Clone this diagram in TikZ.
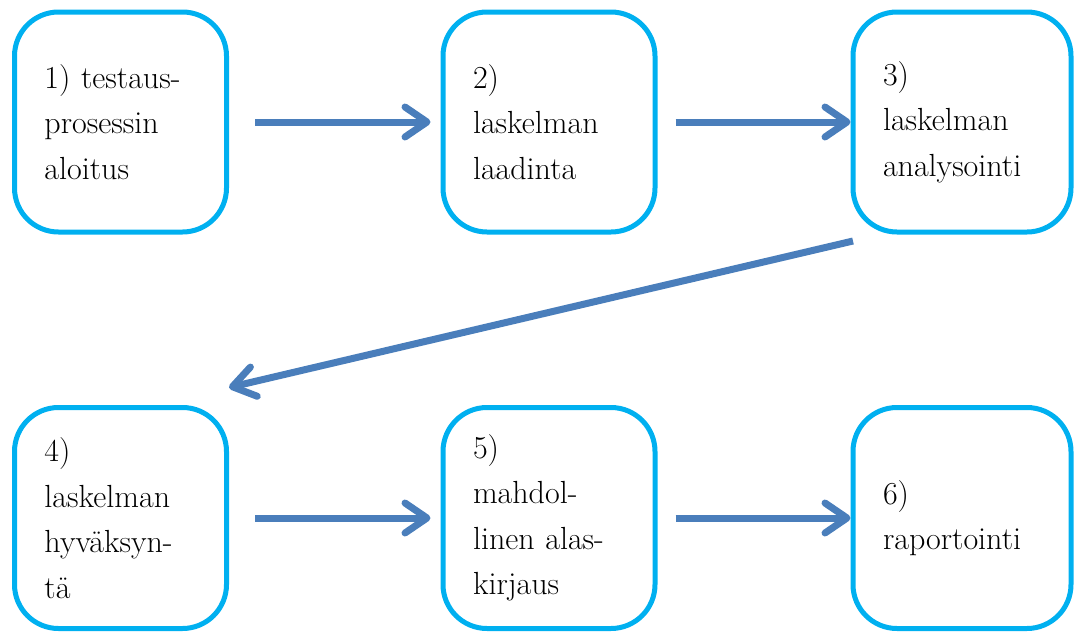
\documentclass[tikz,border=0pt]{standalone}
\usepackage{fontspec}
\usetikzlibrary{arrows.meta}

\definecolor{boxcyan}{HTML}{00B0F0}
\definecolor{flowblue}{HTML}{4A7EBB}

\begin{document}
\begin{tikzpicture}[x=0.5pt,y=-0.5pt,
    stepbox/.style={rectangle, draw=boxcyan, line width=2.5pt, rounded corners=22pt,
        minimum height=110pt, text width=76pt, inner xsep=15pt, align=left,
        font=\fontsize{16}{22.75}\selectfont},
    widebox/.style={stepbox, text width=79pt},
    flow/.style={draw=flowblue, line width=3.5pt,
        -{Straight Barb[length=11pt,width=15pt,round]}}]
    \useasboundingbox (0,0) rectangle (1078,633);

    % Ylärivi
    \node[stepbox] (b1) at (120.5,122) {1) testaus-\\prosessin\\aloitus};
    \node[stepbox] (b2) at (549,122) {2)\\laskelman\\laadinta};
    \node[widebox] (b3) at (962,122) {3)\\laskelman\\analysointi};

    % Alarivi
    \node[stepbox, minimum height=110.5pt] (b4) at (120.5,518) {4)\\laskelman\\hyväksyn-\\tä};
    \node[stepbox, minimum height=110.5pt] (b5) at (549,518) {5)\\mahdol-\\linen alas-\\kirjaus};
    \node[widebox, minimum height=110.5pt] (b6) at (962,518) {6)\\raportointi};

    % Nuolet
    \draw[flow, shorten <=13pt, shorten >=5pt] (b1) -- (b2);
    \draw[flow, shorten <=9pt] (b2) -- (b3);
    \draw[flow] ([shift={(1.25pt,-3.25pt)}]b3.south west) -- ([yshift=8.75pt]b4.north east);
    \draw[flow, shorten <=13pt, shorten >=5pt] (b4) -- (b5);
    \draw[flow, shorten <=9pt] (b5) -- (b6);
\end{tikzpicture}
\end{document}
